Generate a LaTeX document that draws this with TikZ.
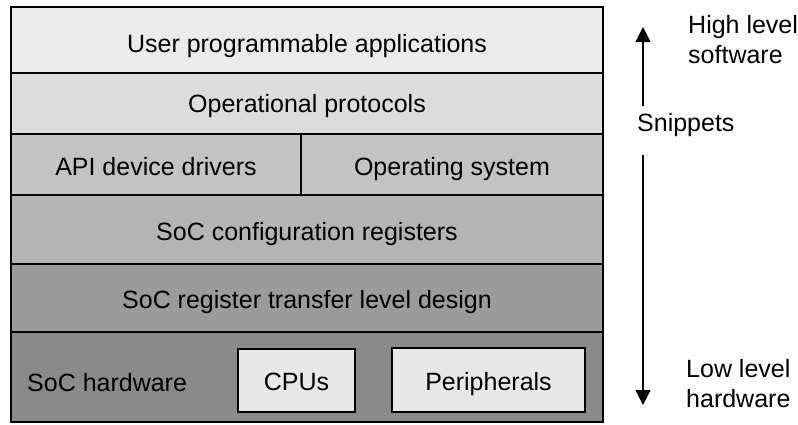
\documentclass[tikz,border=0pt]{standalone}
\usepackage{fontspec}
\setmainfont{Liberation Sans}
\usetikzlibrary{arrows.meta}
\definecolor{layerA}{HTML}{EBEBEB}
\definecolor{layerB}{HTML}{DCDCDC}
\definecolor{layerC}{HTML}{C3C3C3}
\definecolor{layerD}{HTML}{B4B4B4}
\definecolor{layerE}{HTML}{9B9B9B}
\definecolor{layerF}{HTML}{8A8A8A}
\definecolor{unitfill}{HTML}{E8E8E8}
\begin{document}
\begin{tikzpicture}[x=1pt,y=-1pt,
  layer/.style={draw=black,line width=1.3pt,inner sep=0pt},
  lbl/.style={font=\fontsize{25}{30}\selectfont,inner sep=0pt,anchor=base},
  side/.style={font=\fontsize{25}{30}\selectfont,inner sep=0pt,align=left,anchor=north west},
  flow/.style={line width=1.2pt,-{Triangle[width=15pt,length=15pt]}}]
\useasboundingbox (0,0) rectangle (798,424);
% stacked layers, top to bottom
\filldraw[layer,fill=layerA] (11,7) rectangle (603,73);
\filldraw[layer,fill=layerB] (11,73) rectangle (603,134);
\filldraw[layer,fill=layerC] (11,134) rectangle (301,195);
\filldraw[layer,fill=layerC] (301,134) rectangle (603,195);
\filldraw[layer,fill=layerD] (11,195) rectangle (603,264);
\filldraw[layer,fill=layerE] (11,264) rectangle (603,332);
\filldraw[layer,fill=layerF] (11,332) rectangle (603,422);
% hardware units
\filldraw[layer,fill=unitfill] (238,349) rectangle (355,412);
\filldraw[layer,fill=unitfill] (392,348) rectangle (585,412);
% layer labels (placed on their baselines)
\node[lbl] (apps) at (307,52) {User programmable applications};
\node[lbl] (proto) at (307,112) {Operational protocols};
\node[lbl] (api) at (156,175) {API device drivers};
\node[lbl] (os) at (452,175) {Operating system};
\node[lbl] (cfg) at (307,240) {SoC configuration registers};
\node[lbl] (rtl) at (307,308) {SoC register transfer level design};
\node[lbl,anchor=base west] (hw) at (27,391) {SoC hardware};
\node[lbl] (cpu) at (296.5,390) {CPUs};
\node[lbl] (peri) at (488.5,390) {Peripherals};
% abstraction scale
\node[side] (high) at (688,15) {High level\\software};
\node[lbl,anchor=base west] (snip) at (637,131) {Snippets};
\node[side] (low) at (686,359) {Low level\\hardware};
\coordinate (topend) at (643,27);
\coordinate (botend) at (643,405);
\draw[flow] (643,106) -- (topend);
\draw[flow] (643,155) -- (botend);
\end{tikzpicture}
\end{document}
